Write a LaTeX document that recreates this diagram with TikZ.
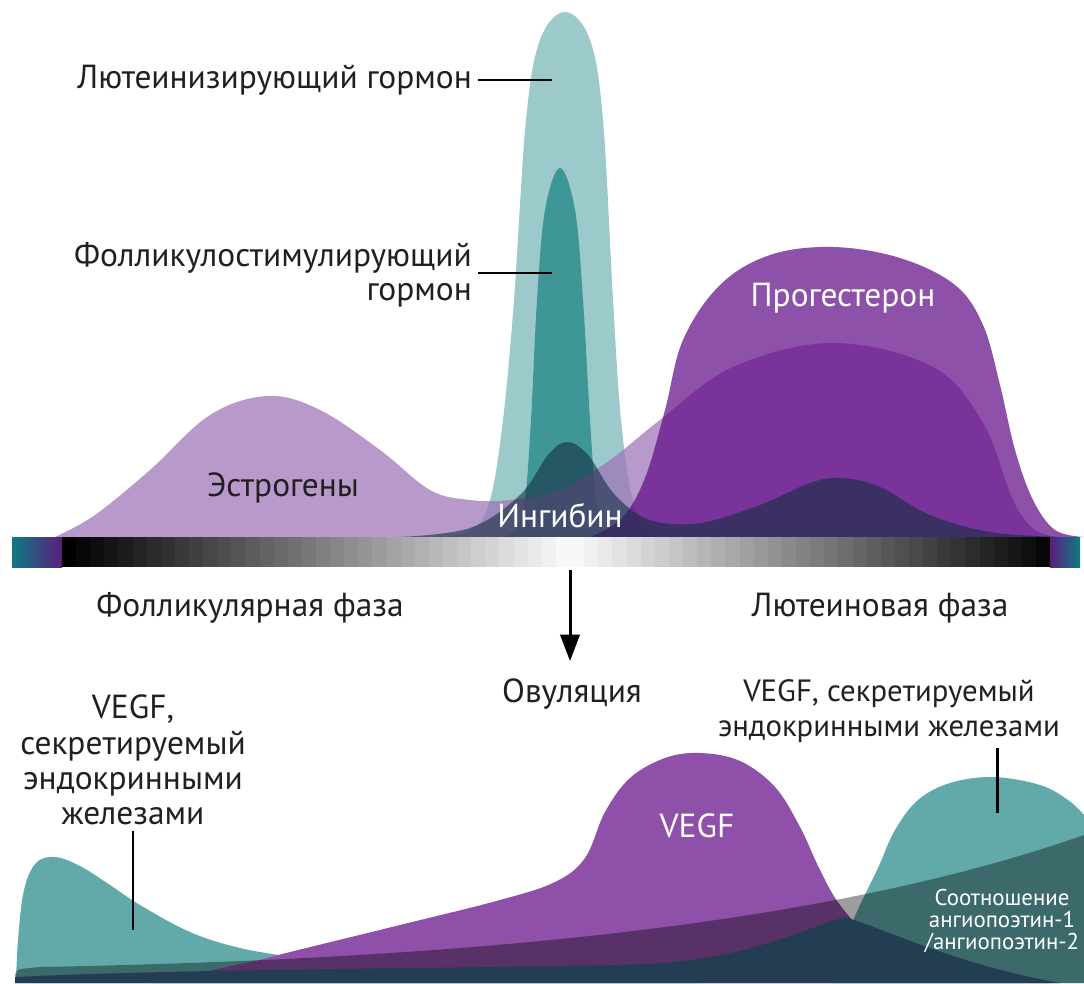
\documentclass[tikz,border=0pt]{standalone}
\usepackage{fontspec}
\setmainfont{PT Sans}
\usepackage{xcolor}
\usepackage{tikz}
\usetikzlibrary{arrows.meta}
\definecolor{txt}{RGB}{35,31,32}
\definecolor{lhc}{RGB}{156,201,201}
\definecolor{fshc}{RGB}{62,150,150}
\definecolor{estc}{RGB}{160,119,187}
\definecolor{progc}{RGB}{95,8,134}
\definecolor{inhc}{RGB}{20,45,65}
\definecolor{vtealc}{RGB}{98,170,170}
\definecolor{vegfc}{RGB}{142,80,168}
\definecolor{navyc}{RGB}{35,61,82}
\definecolor{capt}{RGB}{15,122,130}
\definecolor{capp}{RGB}{90,30,125}

\begin{document}
\begin{tikzpicture}[x=0.02cm,y=-0.02cm,>=stealth,
lbl/.style={font=\fontsize{19}{19.5}\selectfont,text=txt},
wlbl/.style={lbl,text=white},
lead/.style={line width=1.7pt,black}]
\useasboundingbox (0,0) rectangle (1084,983);
\fill[white](0,0) rectangle (1084,983);
% hormones
\fill[lhc] plot[smooth,tension=0.6] coordinates{(440,537)(472,530)(490,500)(503,420)(514,300)(526,120)(540,40)(565,12)(590,40)(603,120)(613,300)(621,420)(633,500)(652,530)(690,537)} -- cycle;
\fill[fshc] plot[smooth,tension=0.6] coordinates{(500,537)(516,530)(525,500)(531,420)(537,300)(545,210)(560,168)(575,210)(583,300)(590,420)(596,500)(604,530)(620,537)} -- cycle;
\fill[estc,opacity=0.75] plot[smooth,tension=0.6] coordinates{(55,537)(95,515)(150,470)(210,415)(268,396)(320,410)(380,450)(430,490)(470,500)(510,500)(560,490)(610,460)(660,420)(733,367)(833,343)(933,367)(983,423)(1013,500)(1035,530)(1060,537)} -- cycle;
\fill[progc,opacity=0.7] plot[smooth,tension=0.6] coordinates{(590,537)(622,518)(645,478)(665,410)(683,340)(720,285)(770,255)(833,247)(900,258)(955,285)(983,325)(1000,385)(1015,450)(1033,500)(1055,530)(1084,537)} -- cycle;
\fill[inhc,opacity=0.6] plot[smooth,tension=0.6] coordinates{(400,537)(470,528)(520,495)(548,455)(567,442)(588,455)(615,495)(650,520)(700,523)(760,505)(810,483)(842,478)(880,487)(930,515)(990,532)(1060,537)} -- cycle;
% bar
\shade[left color=capt,right color=capp](12,537) rectangle (62,567);
\foreach \i in {0,...,35}{\pgfmathsetmacro\g{100*\i/36}
\fill[white!\g!black]({62+\i*14.11},537) rectangle ++(14.3,30);}
\foreach \i in {0,...,33}{\pgfmathsetmacro\g{100*(\i+1)/35}
\fill[white!\g!black]({1050-(\i+1)*14.12},537) rectangle ++(14.3,30);}
\shade[left color=capp,right color=capt](1050,537) rectangle (1080,567);
% VEGF
\fill[vtealc] plot[smooth,tension=0.6] coordinates{(16,983)(18,940)(24,890)(36,863)(55,857)(80,866)(110,885)(140,905)(190,932)(240,948)(300,958)(360,965)(420,970)(500,975)(600,979)(700,983)} -- cycle;
\fill[vegfc] plot[smooth,tension=0.6] coordinates{(150,983)(250,962)(290,952)(400,925)(500,900)(555,882)(585,858)(605,812)(630,778)(665,758)(700,753)(740,761)(775,787)(800,827)(820,870)(840,905)(870,935)(920,955)(980,970)(1050,983)} -- cycle;
\fill[vtealc] plot[smooth,tension=0.6] coordinates{(830,983)(845,940)(860,905)(878,868)(895,830)(918,800)(950,783)(993,777)(1040,785)(1068,800)(1084,815)} -- (1084,983) -- cycle;
\fill[black,opacity=0.38](15,983) -- (15,974) .. controls (17,969) .. (40,967) .. controls (400,960) and (800,935) .. (1084,835) -- (1084,983) -- cycle;
\fill[navyc](15,983) -- (15,977) .. controls (200,968) and (550,968) .. (650,964) .. controls (750,958) and (800,930) .. (845,917) .. controls (900,935) and (960,965) .. (1060,983) -- cycle;
% labels
\node[lbl,anchor=east] (lh) at (478,80) {Лютеинизирующий гормон};
\coordinate (lhpt) at (552,80);
\draw[lead] (lh.east) -- (lhpt);
\node[lbl,anchor=east,align=right] (fsh) at (478,275) {Фолликулостимулирующий\\гормон};
\coordinate (fshpt) at (552,273);
\draw[lead] (fsh.east |- fshpt) -- (fshpt);
\node[lbl] (est) at (283,488) {Эстрогены};
\node[wlbl] (inh) at (560,516) {Ингибин};
\node[wlbl] (prog) at (843,298) {Прогестерон};
\node[lbl] (foll) at (250,608) {Фолликулярная фаза};
\node[lbl] (lut) at (880,608) {Лютеиновая фаза};
\node[lbl] (ovul) at (572,694) {Овуляция};
\coordinate (ovtop) at (570,570);
\coordinate (ovbot) at (570,661);
\draw[line width=1.7pt,-{Triangle[width=11pt,length=15pt]}] (ovtop) -- (ovbot);
\node[lbl,align=center,font=\fontsize{19}{20}\selectfont] (vegfl) at (133,760) {VEGF,\\секретируемый\\эндокринными\\железами};
\coordinate (vegflpt) at (133,930);
\draw[lead] (vegfl.south) -- (vegflpt);
\node[lbl,align=center,font=\fontsize{17.5}{19.5}\selectfont] (vegfr) at (889,711) {VEGF, секретируемый\\эндокринными железами};
\coordinate (vegfrpt) at (997,813);
\draw[lead] (vegfr.south -| vegfrpt) -- (vegfrpt);
\node[wlbl] (vegf) at (697,826) {VEGF};
\node[text=white,align=center,font=\fontsize{13}{12.5}\selectfont] (ang) at (1002,921) {Соотношение\\ангиопоэтин-1\\/ангиопоэтин-2};
\end{tikzpicture}
\end{document}
